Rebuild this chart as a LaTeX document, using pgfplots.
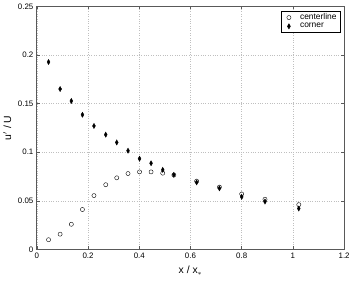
\documentclass[border=0pt]{standalone}
\usepackage{fontspec}
\setmainfont{Liberation Sans}
\usepackage{pgfplots}
\pgfplotsset{compat=1.18}
\begin{document}
\begin{tikzpicture}
\begin{axis}[
  scale only axis,
  width=310.5pt, height=245.5pt,
  xmin=0, xmax=1.2, ymin=0, ymax=0.25,
  xtick={0,0.2,0.4,0.6,0.8,1,1.2},
  xticklabels={0,0.2,0.4,0.6,0.8,1,1.2},
  ytick={0,0.05,0.1,0.15,0.2,0.25},
  yticklabels={0,0.05,0.1,0.15,0.2,0.25},
  tick label style={font=\fontsize{8}{9}\selectfont},
  grid=major,
  major grid style={gray!50, dotted, line width=0.4pt},
  axis line style={gray!70!black, line width=0.9pt},
  tick style={gray!70!black, line width=0.5pt},
  tick align=inside,
  major tick length=3pt,
  xlabel={x / x$_*$},
  ylabel={u$'$ / U},
  label style={font=\fontsize{10.5}{11}\selectfont},
  xlabel style={yshift=-1pt},
  ylabel style={yshift=0pt},
  legend style={at={(rel axis cs:0.989,0.983)}, anchor=north east,
    font=\fontsize{8.5}{9}\selectfont, draw=black, line width=0.5pt,
    inner xsep=2pt, inner ysep=1pt, row sep=-2pt, legend cell align=left},
  legend image code/.code={\path (-5pt,0pt) (9pt,0pt); \draw[#1] plot coordinates {(0pt,0pt)};},
]
\addplot[only marks, mark=o, mark size=2.1pt, black, line width=0.4pt] coordinates {
(0.0456,0.0099) (0.0908,0.0156) (0.1346,0.0258) (0.178,0.041) (0.223,0.0553)
(0.269,0.0665) (0.312,0.0736) (0.356,0.078) (0.401,0.0797) (0.446,0.0797)
(0.4916,0.0784) (0.535,0.0765) (0.624,0.0702) (0.713,0.0641) (0.80,0.057)
(0.891,0.0516) (1.023,0.046)};
\addlegendentry{centerline}
\addplot[only marks, mark=diamond*, mark size=2.6pt, mark options={xscale=0.75}, black] coordinates {
(0.0456,0.1928) (0.0908,0.165) (0.1346,0.1527) (0.178,0.1385) (0.223,0.127)
(0.269,0.118) (0.312,0.110) (0.356,0.1015) (0.401,0.0933) (0.446,0.0886)
(0.4916,0.0818) (0.535,0.0767) (0.624,0.0689) (0.713,0.0628) (0.80,0.054)
(0.891,0.0492) (1.023,0.042)};
\addlegendentry{corner}
\end{axis}
\path (current axis.south west) ++(-33.5pt,-31pt) coordinate (bl);
\path (current axis.north east) ++(9pt,6.5pt) coordinate (tr);
\path[use as bounding box] (bl) rectangle (tr);
\end{tikzpicture}
\end{document}
